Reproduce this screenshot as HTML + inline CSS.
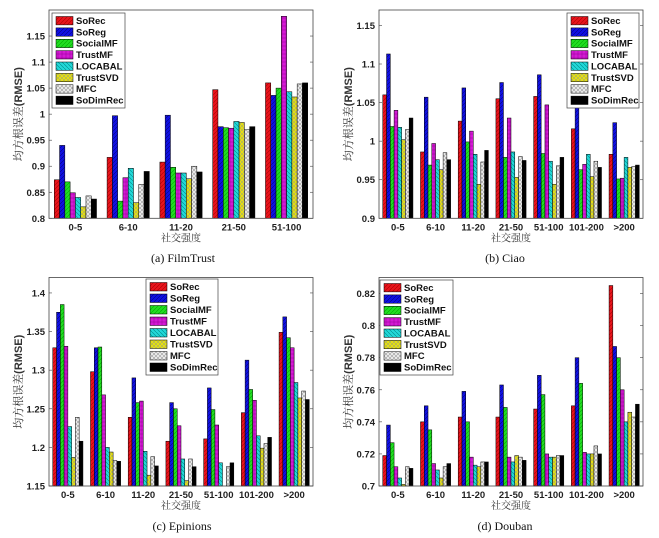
<!DOCTYPE html>
<html><head><meta charset="utf-8">
<style>
body{margin:0;background:#fff;}
svg{display:block;font-family:"Liberation Sans","Noto Sans CJK SC",sans-serif;}
.tk{font-size:9.5px;font-weight:bold;fill:#222;}
.lg{font-size:9.5px;font-weight:bold;fill:#111;}
.cap{font-family:"Liberation Serif","Noto Serif CJK SC",serif;font-size:12px;fill:#111;}
.zh{font-family:"Noto Serif CJK SC","Noto Sans CJK SC",serif;font-size:10px;fill:#333;}
.yt{font-family:"Noto Serif CJK SC","Noto Sans CJK SC",serif;font-size:11px;fill:#333;}
.yt tspan.b{font-family:"Liberation Sans",sans-serif;font-weight:bold;}
</style></head>
<body>
<svg id="fig" width="659" height="538" viewBox="0 0 659 538">
<defs>
<pattern id="pRed" width="4" height="4" patternUnits="userSpaceOnUse"><rect width="4" height="4" fill="#e8141c"/><path d="M0 4L4 0" stroke="#a00" stroke-width="0.6"/></pattern>
<pattern id="pBlue" width="4" height="4" patternUnits="userSpaceOnUse"><rect width="4" height="4" fill="#1010e0"/><path d="M0 4L4 0" stroke="#006" stroke-width="0.5"/></pattern>
<pattern id="pGreen" width="4" height="4" patternUnits="userSpaceOnUse"><rect width="4" height="4" fill="#22dd22"/><path d="M0 4L4 0" stroke="#0a0" stroke-width="0.6"/></pattern>
<pattern id="pMag" width="4" height="4" patternUnits="userSpaceOnUse"><rect width="4" height="4" fill="#d41ad4"/><path d="M0 2H4M2 0V4" stroke="#909" stroke-width="0.5"/></pattern>
<pattern id="pCyan" width="4" height="4" patternUnits="userSpaceOnUse"><rect width="4" height="4" fill="#22d8d8"/><path d="M0 0L4 4" stroke="#088" stroke-width="0.6"/></pattern>
<pattern id="pYel" width="4" height="4" patternUnits="userSpaceOnUse"><rect width="4" height="4" fill="#e4e010"/><path d="M0 0L4 4M0 4L4 0" stroke="#998" stroke-width="0.5"/></pattern>
<pattern id="pGray" width="4" height="4" patternUnits="userSpaceOnUse"><rect width="4" height="4" fill="#eee"/><path d="M0 0L4 4M0 4L4 0" stroke="#999" stroke-width="0.6"/></pattern>
</defs>
</svg>
<script>
const seriesNames = ["SoRec","SoReg","SocialMF","TrustMF","LOCABAL","TrustSVD","MFC","SoDimRec"];
const catsA = ["0-5","6-10","11-20","21-50","51-100"];
const catsB = ["0-5","6-10","11-20","21-50","51-100","101-200",">200"];
const ticksA = [0.8,0.85,0.9,0.95,1,1.05,1.1,1.15];
const ticksB = [0.9,0.95,1,1.05,1.1,1.15];
const ticksC = [1.15,1.2,1.25,1.3,1.35,1.4];
const ticksD = [0.7,0.72,0.74,0.76,0.78,0.8,0.82];
const valsA = [
 [0.874,0.940,0.870,0.849,0.840,0.822,0.843,0.837],
 [0.917,0.997,0.833,0.878,0.896,0.830,0.865,0.890],
 [0.908,0.998,0.898,0.887,0.887,0.876,0.900,0.889],
 [1.047,0.976,0.974,0.973,0.986,0.984,0.970,0.976],
 [1.060,1.036,1.050,1.188,1.043,1.033,1.058,1.060]];
const valsB = [
 [1.060,1.113,1.019,1.040,1.018,1.002,1.015,1.030],
 [0.986,1.057,0.969,0.997,0.976,0.963,0.985,0.976],
 [1.026,1.069,0.999,1.013,0.983,0.944,0.973,0.988],
 [1.055,1.076,0.979,1.030,0.986,0.953,0.980,0.975],
 [1.058,1.086,0.984,1.047,0.974,0.944,0.968,0.979],
 [1.016,1.050,0.963,0.970,0.983,0.954,0.974,0.966],
 [0.983,1.024,0.951,0.952,0.979,0.966,0.967,0.969]];
const valsC = [
 [1.329,1.375,1.385,1.331,1.227,1.187,1.239,1.208],
 [1.298,1.329,1.330,1.268,1.200,1.194,1.183,1.182],
 [1.239,1.290,1.258,1.260,1.195,1.164,1.188,1.176],
 [1.208,1.258,1.250,1.228,1.185,1.157,1.185,1.175],
 [1.211,1.277,1.249,1.229,1.180,1.145,1.175,1.180],
 [1.245,1.313,1.275,1.261,1.215,1.199,1.205,1.213],
 [1.349,1.369,1.342,1.329,1.284,1.264,1.273,1.262]];
const valsD = [
 [0.719,0.738,0.727,0.712,0.705,0.701,0.712,0.711],
 [0.740,0.750,0.735,0.714,0.710,0.705,0.712,0.714],
 [0.743,0.759,0.740,0.718,0.713,0.712,0.715,0.715],
 [0.743,0.763,0.749,0.718,0.715,0.719,0.718,0.716],
 [0.748,0.769,0.757,0.720,0.718,0.718,0.719,0.719],
 [0.750,0.780,0.764,0.721,0.720,0.720,0.725,0.720],
 [0.825,0.787,0.780,0.760,0.740,0.746,0.743,0.751]];
const fills = ["url(#pRed)","url(#pBlue)","url(#pGreen)","url(#pMag)","url(#pCyan)","url(#pYel)","url(#pGray)","#000"];

const NS="http://www.w3.org/2000/svg";
const svg=document.getElementById('fig');
function mk(tag,attrs,parent,text){const e=document.createElementNS(NS,tag);for(const k in attrs)e.setAttribute(k,attrs[k]);if(text!==undefined)e.textContent=text;(parent||svg).appendChild(e);return e;}

function panel(id,box,ylim,cats,vals,ticks,leg,caption,capX,capY){
  const g=mk('g',{});
  
  
  const [L,T,R,B]=box;
  const y=v=>B-(v-ylim[0])/(ylim[1]-ylim[0])*(B-T);
  const sp=(R-L)/cats.length;
  const x=i=>L+sp*(i+0.5);
  mk('rect',{x:L,y:T,width:R-L,height:B-T,fill:'#fff',stroke:'none'},g);
  const bw=sp*0.8/8;
  vals.forEach((grp,i)=>{
    grp.forEach((v,j)=>{
      const bx=x(i)-sp*0.4+j*bw;
      const yy=Math.max(T,y(v));
      const r=mk('rect',{x:bx.toFixed(2),y:yy.toFixed(2),width:(bw).toFixed(2),height:Math.max(0,B-yy).toFixed(2),fill:fills[j],stroke:'#000','stroke-width':0.5},g);
      
      
    });
  });
  mk('rect',{x:L,y:T,width:R-L,height:B-T,fill:'none',stroke:'#444','stroke-width':0.8},g);
  ticks.forEach(t=>{
    const ty=y(t);
    mk('line',{x1:L,x2:L+3,y1:ty,y2:ty,stroke:'#444','stroke-width':0.6},g);
    mk('line',{x1:R,x2:R-3,y1:ty,y2:ty,stroke:'#444','stroke-width':0.6},g);
    const tl=mk('text',{x:L-4,y:ty+3.5,'text-anchor':'end',class:'tk'},g,String(t));
    
    
  });
  cats.forEach((c,i)=>{
    mk('line',{x1:x(i),x2:x(i),y1:B,y2:B-3,stroke:'#444','stroke-width':0.6},g);
    const tl=mk('text',{x:x(i),y:B+12,'text-anchor':'middle',class:'tk'},g,c);
    
    
  });
  const xt=mk('text',{x:(L+R)/2,y:B+23,'text-anchor':'middle',class:'zh'},g,'社交强度');
  
  
  const cy=(T+B)/2;
  const yt=mk('text',{x:L-27,y:cy,'text-anchor':'middle',class:'yt',transform:`rotate(-90 ${L-27} ${cy})`},g);
  
  
  mk('tspan',{},yt,'均方根误差');
  mk('tspan',{class:'b'},yt,'(RMSE)');
  const [lx,ly,lw,lh]=leg;
  const lg=mk('g',{},g);
  
  
  mk('rect',{x:lx,y:ly,width:lw,height:lh,fill:'#fff',stroke:'#444','stroke-width':0.7},lg);
  const rh=(lh-4)/8;
  seriesNames.forEach((n,j)=>{
    const ry=ly+2+j*rh;
    mk('rect',{x:lx+4,y:ry+1.5,width:17,height:rh-3,fill:fills[j],stroke:'#000','stroke-width':0.5},lg);
    const t=mk('text',{x:lx+24,y:ry+rh-2.5,class:'lg'},lg,n);
    
    
  });
  const cp=mk('text',{x:capX,y:capY,'text-anchor':'middle',class:'cap'},g,caption);
  
  
}
panel('filmtrust',[49,10,313,218.3],[0.8,1.2],catsA,valsA,ticksA,[52,13,73,95],'(a) FilmTrust',183,262);
panel('ciao',[379,10,643,218.3],[0.9,1.17],catsB,valsB,ticksB,[567,13,72,95],'(b) Ciao',505,262);
panel('epinions',[49,277.5,313,486],[1.15,1.42],catsB,valsC,ticksC,[146,279,72,96],'(c) Epinions',182,530);
panel('douban',[379,277.5,643,486],[0.7,0.83],catsB,valsD,ticksD,[380,280,73,95],'(d) Douban',505,530);
</script>
</body></html>
